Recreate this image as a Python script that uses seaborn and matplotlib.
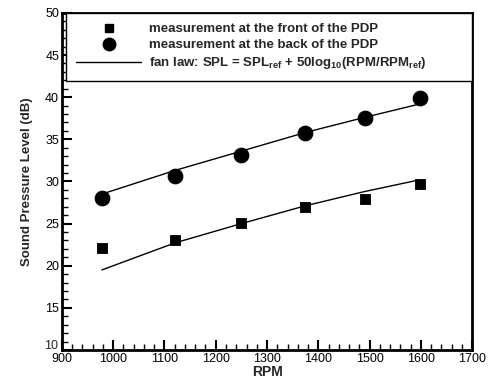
import numpy as np
import pandas as pd
import matplotlib
matplotlib.use("Agg")
import matplotlib.pyplot as plt
import seaborn as sns
from matplotlib.lines import Line2D
from matplotlib.ticker import MultipleLocator, FuncFormatter

# Data
rpm = [978, 1120, 1250, 1374, 1490, 1598]
spl_front = [22.1, 23.1, 25.1, 27.0, 27.9, 29.7]
spl_back = [28.0, 30.7, 33.1, 35.8, 37.5, 39.9]
fan_law_front = [19.5, 22.7, 25.0, 27.1, 28.8, 30.2]
fan_law_back = [28.5, 31.3, 33.6, 35.8, 37.6, 39.2]

labels = [
    "measurement at the front of the PDP",
    "measurement at the back of the PDP",
    r"fan law: SPL = SPL$_{ref}$ + 50log$_{10}$(RPM/RPM$_{ref}$)",
]

sns.set_style("ticks")
plt.rcParams["font.family"] = ["Liberation Sans", "DejaVu Sans"]
plt.rcParams["mathtext.default"] = "regular"

df = pd.DataFrame({
    "rpm": rpm * 2,
    "spl": spl_front + spl_back,
    "fan": fan_law_front + fan_law_back,
    "where": ["front"] * len(rpm) + ["back"] * len(rpm),
})

fig = plt.figure(figsize=(4.95, 3.8), dpi=100)
ax = fig.add_axes([0.125, 0.079, 0.829, 0.887])

# fan law lines
for w in ["front", "back"]:
    sns.lineplot(data=df[df["where"] == w], x="rpm", y="fan", color="black",
                 linewidth=1.0, ax=ax, legend=False)

# measurements
sns.scatterplot(data=df[df["where"] == "front"], x="rpm", y="spl", marker="s",
                color="black", s=60, edgecolor="black", ax=ax, legend=False, zorder=3)
sns.scatterplot(data=df[df["where"] == "back"], x="rpm", y="spl", marker="o",
                color="black", s=110, edgecolor="black", ax=ax, legend=False, zorder=3)

ax.set_xlim(900, 1700)
ax.set_ylim(10, 50)
ax.xaxis.set_major_locator(MultipleLocator(100))
ax.xaxis.set_minor_locator(MultipleLocator(20))
ax.yaxis.set_major_locator(MultipleLocator(5))
ax.yaxis.set_minor_locator(MultipleLocator(1))
# the bottom "10" is drawn separately, a little higher so it clears "900"
ax.yaxis.set_major_formatter(FuncFormatter(lambda v, p: "" if v == 10 else f"{v:.0f}"))
ax.annotate("10", xy=(0, 10), xycoords=("axes fraction", "data"), xytext=(-3, 3),
            textcoords="offset points", ha="right", va="center", fontsize=9)
ax.tick_params(which="both", direction="in", top=False, right=False, colors="black",
               labelsize=9, pad=2)
ax.tick_params(which="major", length=7, width=1.5)
ax.tick_params(which="minor", length=4, width=1)
for sp in ax.spines.values():
    sp.set_visible(True)
    sp.set_linewidth(2)
    sp.set_color("black")

ax.set_xlabel("RPM", fontsize=10, fontweight="bold", labelpad=0)
ax.set_ylabel("Sound Pressure Level (dB)", fontsize=9.5, fontweight="bold", labelpad=9)

handles = [
    Line2D([], [], marker="s", color="black", linestyle="none", markersize=6),
    Line2D([], [], marker="o", color="black", linestyle="none", markersize=9),
    Line2D([], [], color="black", linewidth=1.0),
]
leg = ax.legend(handles, labels, loc="upper left", bbox_to_anchor=(0.011, 0, 0.989, 1.0),
                mode="expand", borderaxespad=0, fancybox=False, framealpha=1,
                edgecolor="black", handlelength=4.9, handletextpad=0.6,
                labelspacing=0.3, borderpad=0.76, prop={"weight": "bold", "size": 9.5})
leg.get_frame().set_linewidth(1.0)

fig.savefig("out.png", dpi=100)
